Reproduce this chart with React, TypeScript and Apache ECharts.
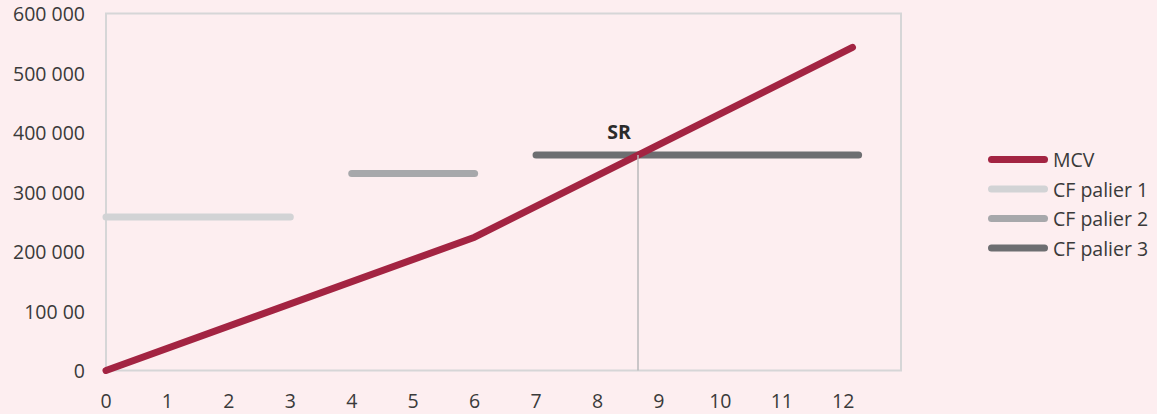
import React, { useEffect, useRef } from "react";
import * as echarts from "echarts";

// Marge sur coûts variables (MCV) en fonction du volume, et charges fixes par palier
const mcvPoints: [number, number][] = [
  [0, 0],
  [6, 224000],
  [12.15, 543000],
];
const cfPalier1: [number, number][] = [
  [0, 258000],
  [3, 258000],
];
const cfPalier2: [number, number][] = [
  [4, 331000],
  [6, 331000],
];
const cfPalier3: [number, number][] = [
  [7, 362000],
  [12.25, 362000],
];
const yTickLabels = ["0", "100 00", "200 000", "300 000", "400 000", "500 000", "600 000"];
const xTickLabels = ["0", "1", "2", "3", "4", "5", "6", "7", "8", "9", "10", "11", "12"];

// Seuil de rentabilité : point où la MCV rejoint les charges fixes du palier 3
function breakEvenX(): number {
  const level = cfPalier3[0][1];
  for (let i = 1; i < mcvPoints.length; i++) {
    const [x0, y0] = mcvPoints[i - 1];
    const [x1, y1] = mcvPoints[i];
    if (y0 <= level && y1 >= level) {
      return x0 + ((level - y0) / (y1 - y0)) * (x1 - x0);
    }
  }
  return 0;
}

const FONT = "'Open Sans', 'Noto Sans', sans-serif";
const FS = 19.5;
const TEXT = "#3a3a3a";
const BORDER = "#d6d6d7";
const BG = "#fdeef0";

const legendIcon = "path://M3.5,0 H56.5 A3.5,3.5 0 0 1 56.5,7 H3.5 A3.5,3.5 0 0 1 3.5,0 Z";

export default function App() {
  const ref = useRef<HTMLDivElement>(null);

  useEffect(() => {
    if (!ref.current) return;
    const chart = echarts.init(ref.current, undefined, { renderer: "svg" });
    const srX = breakEvenX();
    const srY = cfPalier3[0][1];

    const lineSeries = (name: string, data: [number, number][], color: string, z: number) => ({
      name,
      type: "line",
      data,
      symbol: "none",
      z,
      lineStyle: { color, width: 7, cap: "round", join: "round" },
      itemStyle: { color },
    });

    chart.setOption({
      animation: false,
      backgroundColor: BG,
      textStyle: { fontFamily: FONT },
      grid: {
        left: 106,
        top: 13.5,
        right: 256,
        bottom: 43.5,
        show: true,
        borderColor: BORDER,
        borderWidth: 2,
        backgroundColor: "transparent",
      },
      legend: {
        orient: "vertical",
        left: 983,
        top: 144.5,
        padding: 5,
        itemWidth: 60,
        itemHeight: 7,
        itemGap: 9.5,
        icon: legendIcon,
        textStyle: { fontFamily: FONT, fontSize: FS, color: TEXT },
        data: ["MCV", "CF palier 1", "CF palier 2", "CF palier 3"],
      },
      xAxis: {
        type: "value",
        min: 0,
        max: 12.94,
        interval: 1,
        axisLine: { show: false },
        axisTick: { show: false },
        splitLine: { show: false },
        axisLabel: {
          showMaxLabel: false,
          margin: 20,
          lineHeight: 19,
          fontFamily: FONT,
          fontSize: FS,
          color: TEXT,
          formatter: (v: number) => xTickLabels[Math.round(v)] ?? "",
        },
      },
      yAxis: {
        type: "value",
        min: 0,
        max: 600000,
        interval: 100000,
        axisLine: { show: false },
        axisTick: { show: false },
        splitLine: { show: false },
        axisLabel: {
          margin: 21,
          fontFamily: FONT,
          fontSize: FS,
          color: TEXT,
          formatter: (v: number) => yTickLabels[Math.round(v / 100000)] ?? "",
        },
      },
      series: [
        {
          ...lineSeries("CF palier 1", cfPalier1, "#d2d3d5", 2),
        },
        {
          ...lineSeries("CF palier 2", cfPalier2, "#a7a8ab", 2),
        },
        {
          ...lineSeries("CF palier 3", cfPalier3, "#6d6e71", 3),
          markLine: {
            silent: true,
            symbol: "none",
            label: { show: false },
            lineStyle: { color: "#b9b9bb", width: 1.5, type: "solid" },
            data: [[{ coord: [srX, 0] }, { coord: [srX, srY] }]],
          },
          markPoint: {
            silent: true,
            symbol: "circle",
            symbolSize: 0,
            data: [{ coord: [srX, srY] }],
            label: {
              show: true,
              formatter: "SR",
              offset: [-19, -24],
              fontFamily: FONT,
              fontSize: FS,
              fontWeight: "bold",
              color: "#2b2b2b",
            },
          },
        },
        {
          ...lineSeries("MCV", mcvPoints, "#a32442", 4),
        },
      ],
    });

    return () => chart.dispose();
  }, []);

  return (
    <div
      ref={ref}
      style={{ position: "fixed", left: 0, top: 0, width: 1157, height: 414, background: BG }}
    />
  );
}
